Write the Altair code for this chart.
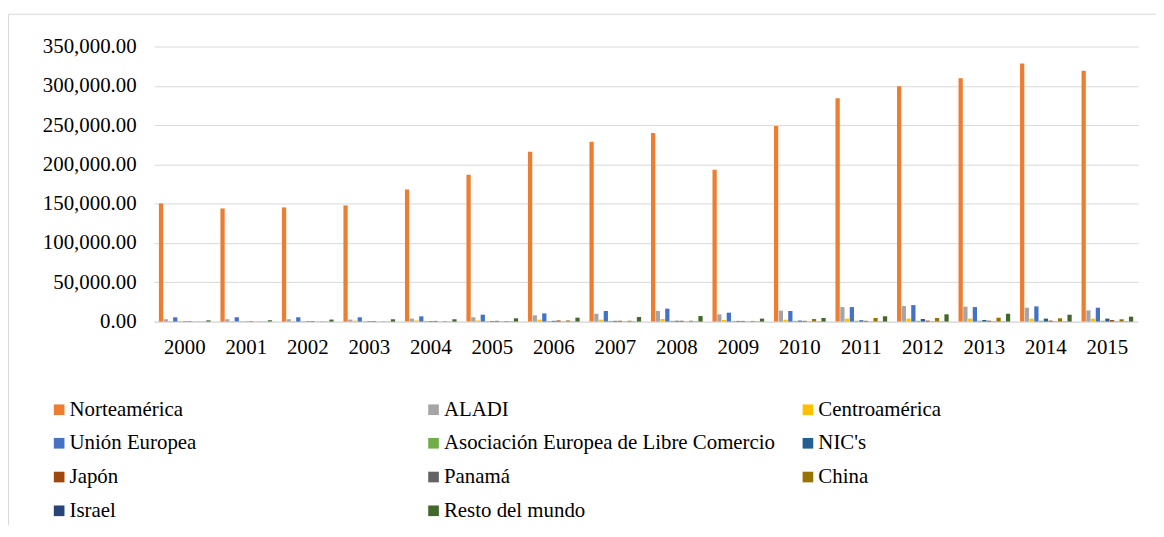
import altair as alt
import pandas as pd

years = [str(y) for y in range(2000, 2016)]
series = ["Norteamérica", "ALADI", "Centroamérica", "Unión Europea",
          "Asociación Europea de Libre Comercio", "NIC's", "Japón", "Panamá",
          "China", "Israel", "Resto del mundo"]
colors = ["#ED7D31", "#A5A5A5", "#FFC000", "#4472C4", "#70AD47", "#255E91",
          "#9E480E", "#636363", "#997300", "#264478", "#43682B"]

norteamerica = [150400, 144000, 145300, 147800, 168000, 187000, 216000, 228700,
                240000, 193300, 249000, 284300, 299500, 309600, 328500, 319300]
aladi = [3000, 3000, 3000, 2600, 3800, 5500, 8000, 10000,
         13500, 9300, 14000, 18500, 19800, 19000, 17700, 14300]
centroamerica = [800, 800, 900, 1200, 1500, 1500, 2500, 2500,
                 3300, 2100, 2500, 3800, 3800, 3800, 3800, 3800]
union_europea = [5500, 5500, 5500, 5500, 6700, 8800, 10500, 13500,
                 16500, 11400, 13500, 18500, 21000, 18500, 19400, 17700]
aelc = [400, 400, 500, 500, 600, 600, 700, 900,
        1000, 800, 900, 1000, 1000, 1100, 1100, 1100]
nics = [500, 500, 600, 600, 700, 800, 1000, 1000,
        1100, 900, 1300, 1700, 3300, 2100, 3800, 3800]
japon = [600, 600, 700, 700, 900, 1000, 1500, 1100,
         1100, 900, 1000, 1000, 1300, 1200, 1300, 2000]
panama = [200, 200, 200, 200, 200, 300, 300, 300,
          300, 300, 300, 300, 400, 400, 400, 400]
china = [300, 300, 400, 400, 600, 800, 1500, 1100,
         1100, 900, 3300, 4600, 4600, 5000, 4200, 3000]
israel = [200, 200, 200, 200, 200, 300, 300, 300,
          300, 300, 300, 300, 300, 300, 300, 300]
resto = [1600, 1600, 2600, 3000, 3000, 4200, 5000, 5900,
         7100, 3800, 4600, 6800, 9300, 10000, 8800, 6300]

y_ticks = [0, 50000, 100000, 150000, 200000, 250000, 300000, 350000]

values = [norteamerica, aladi, centroamerica, union_europea, aelc, nics,
          japon, panama, china, israel, resto]

rows = []
for s, vals in zip(series, values):
    for yr, v in zip(years, vals):
        rows.append({"year": yr, "serie": s, "valor": v})
df = pd.DataFrame(rows)

FONT = "Liberation Serif"
GRID = "#D9D9D9"

border = alt.Chart(alt.Data(values=[{"k": 1}])).mark_rect(
    filled=False, stroke=GRID, strokeWidth=1
).encode(
    x=alt.value(-146.5), x2=alt.value(1030),
    y=alt.value(-32.5), y2=alt.value(560)
)

bars = alt.Chart(df).mark_bar().encode(
    x=alt.X("year:N", sort=years,
            scale=alt.Scale(paddingInner=0.16, paddingOuter=0.08),
            axis=alt.Axis(title=None, labelAngle=0, grid=False, domain=True,
                          domainColor=GRID, domainWidth=1, ticks=False,
                          labelPadding=15, labelFont=FONT, labelFontSize=21,
                          labelColor="#000000")),
    xOffset=alt.XOffset("serie:N", sort=series,
                        scale=alt.Scale(paddingInner=0.1)),
    y=alt.Y("valor:Q", scale=alt.Scale(domain=[0, 350000]),
            axis=alt.Axis(title=None, format=",.2f", values=y_ticks,
                          grid=True, gridColor=GRID, gridWidth=1,
                          domain=False, ticks=False, labelPadding=18,
                          labelFont=FONT, labelFontSize=21,
                          labelColor="#000000")),
    color=alt.Color("serie:N", sort=series,
                    scale=alt.Scale(domain=series, range=colors),
                    legend=alt.Legend(title=None, orient="none",
                                      direction="horizontal",
                                      legendX=-106, legendY=355,
                                      columns=3, gridAlign="all",
                                      columnPadding=22, rowPadding=12,
                                      symbolType="square", symbolSize=115,
                                      symbolStrokeWidth=0, labelOffset=0,
                                      labelFont=FONT, labelFontSize=21,
                                      labelColor="#000000", labelLimit=0,
                                      padding=0)),
)

chart = alt.layer(border, bars).properties(
    width=991, height=277,
    autosize=alt.AutoSizeParams(type="none"),
    padding={"left": 147, "top": 37, "right": 18, "bottom": 203},
).configure_view(strokeWidth=0)

chart.save("out.html", embed_options={"renderer": "svg", "actions": False})
